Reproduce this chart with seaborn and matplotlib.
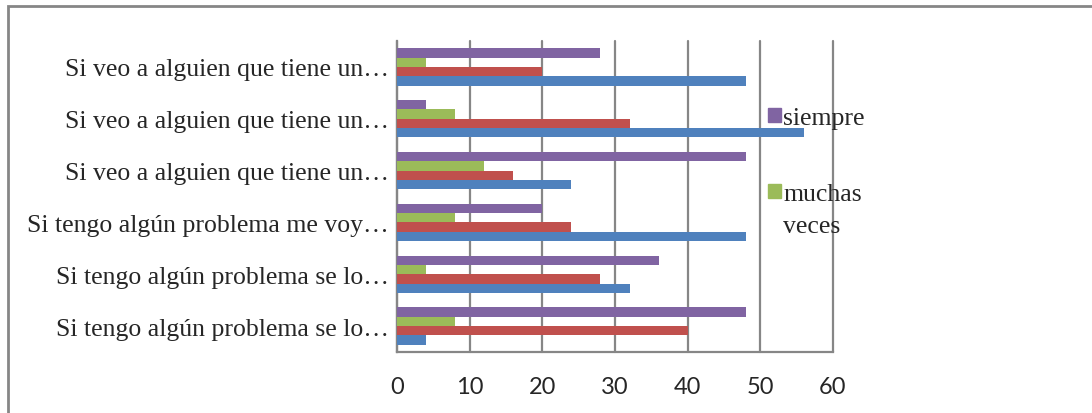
import pandas as pd
import matplotlib
matplotlib.use("Agg")
import matplotlib.pyplot as plt
import seaborn as sns
from matplotlib.patches import Patch, Rectangle

# categories, top to bottom as in the chart
items = [
    "Si veo a alguien que tiene un…",
    "Si veo a alguien que tiene un…\u200b",
    "Si veo a alguien que tiene un…\u200b\u200b",
    "Si tengo algún problema me voy…",
    "Si tengo algún problema se lo…",
    "Si tengo algún problema se lo…\u200b",
]
series = ["siempre", "muchas veces", "algunas veces", "nunca"]
siempre = [28, 4, 48, 20, 36, 48]
muchas_veces = [4, 8, 12, 8, 4, 8]
algunas_veces = [20, 32, 16, 24, 28, 40]
nunca = [48, 56, 24, 48, 32, 4]
colors = ["#8064A2", "#9BBB59", "#C0504D", "#4F81BD"]

rows = []
for name, vals in zip(series, [siempre, muchas_veces, algunas_veces, nunca]):
    for it, v in zip(items, vals):
        rows.append({"item": it, "serie": name, "valor": v})
df = pd.DataFrame(rows)

sns.set_style("white")
plt.rcParams["font.family"] = ["Liberation Serif", "DejaVu Serif"]

fig = plt.figure(figsize=(10.92, 4.14), dpi=100)
ax = fig.add_axes([397 / 1092, 61 / 414, 436 / 1092, 311 / 414])

sns.barplot(data=df, x="valor", y="item", hue="serie", order=items,
            hue_order=series, palette=colors, saturation=1, width=0.72,
            orient="h", linewidth=0, legend=False, ax=ax, zorder=3)

grey = "#868686"
ax.set_xlim(0, 60)
ax.set_ylim(5.5, -0.5)
ax.set_xticks(range(0, 61, 10))
ax.xaxis.grid(True, color=grey, linewidth=1.6, zorder=0)
for gl in ax.get_xgridlines():
    gl.set_clip_on(False)
ax.set_axisbelow(True)
ax.set_xlabel("")
ax.set_ylabel("")

for s in ["top", "right"]:
    ax.spines[s].set_visible(False)
for s in ["left", "bottom"]:
    ax.spines[s].set_color(grey)
    ax.spines[s].set_linewidth(1.6)

ax.tick_params(axis="x", length=6, width=1.6, color=grey, pad=11,
               labelsize=17)
for lab in ax.get_xticklabels():
    lab.set_family(["Lato", "DejaVu Sans"])
ax.set_yticks(range(len(items)))
ax.set_yticklabels([t.replace("\u200b", "") for t in items])
ax.set_yticks([i - 0.5 for i in range(len(items) + 1)], minor=True)
ax.tick_params(axis="y", which="major", length=0, pad=6, labelsize=18.5)
ax.tick_params(axis="y", which="minor", length=6, width=1.6, color=grey)

# only two entries are visible in the original legend
handles = [Patch(color=colors[0]), Patch(color=colors[1])]
fig.legend(handles, ["siempre", "muchas"], loc="upper left",
           bbox_to_anchor=(768 / 1092, 1 - 108 / 414), frameon=False,
           fontsize=18.5, handlelength=0.5, handleheight=0.5,
           handletextpad=0.1, labelspacing=2.1, borderpad=0,
           borderaxespad=0)
fig.text(783 / 1092, 1 - 227 / 414, "veces", fontsize=18.5, va="center")

fig.patches.append(Rectangle((8 / 1092, -0.1), 1.2, 1.1 - 7 / 414,
                             transform=fig.transFigure, fill=False,
                             edgecolor=grey, linewidth=2))

fig.savefig("out.png", dpi=100)
